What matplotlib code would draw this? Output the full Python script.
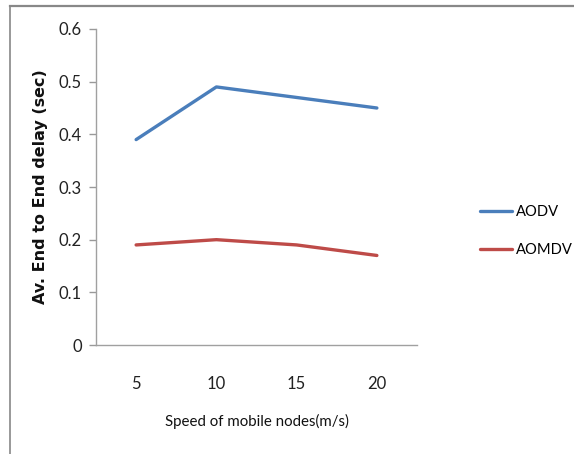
import matplotlib
matplotlib.use("Agg")
import matplotlib.pyplot as plt
from matplotlib.lines import Line2D

speeds = ["5", "10", "15", "20"]
aodv = [0.39, 0.49, 0.47, 0.45]
aomdv = [0.19, 0.20, 0.19, 0.17]
yticks = [0, 0.1, 0.2, 0.3, 0.4, 0.5, 0.6]
ytick_labels = ["0", "0.1", "0.2", "0.3", "0.4", "0.5", "0.6"]

plt.rcParams["font.family"] = ["Lato", "DejaVu Sans"]

fig = plt.figure(figsize=(5.74, 4.54), dpi=100)
W, H = 574, 454
ax = fig.add_axes([96 / W, 1 - 345 / H, 321 / W, 316 / H])

x = list(range(len(speeds)))
ax.plot(x, aodv, color="#4A7EBB", lw=2.4, label="AODV", solid_capstyle="round")
ax.plot(x, aomdv, color="#BE4B48", lw=2.4, label="AOMDV", solid_capstyle="round")

ax.set_xlim(-0.5, 3.5)
ax.set_ylim(0, 0.6)
ax.set_xticks(x)
ax.set_xticklabels(speeds, fontsize=12, color="#222222")
ax.tick_params(axis="x", length=0, pad=22)
ax.set_yticks(yticks)
ax.set_yticklabels(ytick_labels, fontsize=12, color="#222222")
ax.tick_params(axis="y", length=5, width=1, color="#999999", pad=5)

for s in ["top", "right"]:
    ax.spines[s].set_visible(False)
for s in ["left", "bottom"]:
    ax.spines[s].set_color("#A0A0A0")
    ax.spines[s].set_linewidth(1.0)

ax.set_xlabel("Speed of mobile nodes(m/s)", fontsize=10.8, color="#111111", labelpad=16)
ax.set_ylabel("Av. End to End delay (sec)", fontsize=11.5, fontweight="bold",
              color="#111111", labelpad=8, family="DejaVu Sans")

ax.legend(loc="center left", bbox_to_anchor=(1.155, 0.36), frameon=False,
          fontsize=10.6, handlelength=2.2, handletextpad=0.25, labelspacing=1.6)

# outer chart frame (top and left edges)
fig.add_artist(Line2D([10 / W, 1.0], [1 - 6 / H, 1 - 6 / H], color="#888888", lw=1.6))
fig.add_artist(Line2D([10 / W, 10 / W], [0, 1 - 6 / H], color="#888888", lw=1.2))

fig.savefig("out.png", dpi=100)
